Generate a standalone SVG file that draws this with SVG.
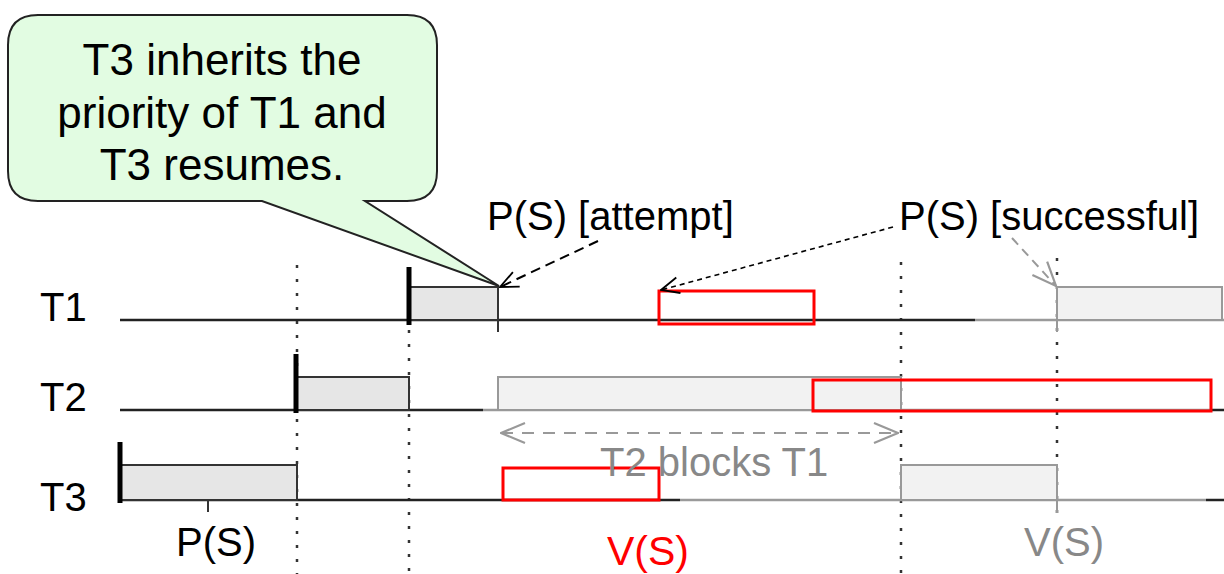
<svg xmlns="http://www.w3.org/2000/svg" width="1224" height="574" viewBox="0 0 1224 574">
<style>
text{font-family:"Liberation Sans",Arial,sans-serif;}
.lbl{font-size:40px;fill:#000;}
.gtxt{font-size:40px;fill:#888;}
.axd{stroke:#222;stroke-width:2.5;fill:none;}
.axg{stroke:#9a9a9a;stroke-width:2.5;fill:none;}
.dot{stroke:#333;stroke-width:2.5;stroke-dasharray:3,11;fill:none;}
.box{fill:#e6e6e6;stroke:#333;stroke-width:2;}
.lbox{fill:#f2f2f2;stroke:#999;stroke-width:2;}
.bar{stroke:#000;stroke-width:5;}
.red{fill:none;stroke:#ff0000;stroke-width:3;}
.tick{stroke:#333;stroke-width:2;}
.gtick{stroke:#999;stroke-width:2;}
</style>
<defs>
<marker id="ab" viewBox="0 0 20 20" refX="19" refY="10" markerWidth="20" markerHeight="20" markerUnits="userSpaceOnUse" orient="auto-start-reverse">
<path d="M1,2 L19,10 L1,18" fill="none" stroke="#000" stroke-width="1.8"/>
</marker>
<marker id="ag" viewBox="0 0 26 26" refX="25" refY="13" markerWidth="26" markerHeight="26" markerUnits="userSpaceOnUse" orient="auto-start-reverse">
<path d="M1,3 L25,13 L1,23" fill="none" stroke="#999" stroke-width="2.2"/>
</marker>
</defs>
<rect width="1224" height="574" fill="#fff"/>

<g id="guides">
<line class="dot" x1="297" y1="265" x2="297" y2="574"/>
<line class="dot" x1="409" y1="330" x2="409" y2="574"/>
<line class="dot" x1="901" y1="262" x2="901" y2="574"/>
<line class="dot" x1="1057" y1="258" x2="1057" y2="515"/>
</g>

<g id="T1">
<text class="lbl" x="40" y="321">T1</text>
<line class="axd" x1="120" y1="320" x2="975" y2="320"/>
<line class="axg" x1="975" y1="320" x2="1224" y2="320"/>
<rect class="box" x="409" y="287" width="89" height="33"/>
<line class="tick" x1="498" y1="287" x2="498" y2="332"/>
<line class="bar" x1="409" y1="267" x2="409" y2="325"/>
<rect class="lbox" x="1057" y="287" width="165" height="33"/>
<line class="gtick" x1="1057" y1="287" x2="1057" y2="332"/>
<rect class="red" x="659" y="291" width="155" height="33"/>
</g>

<g id="T2">
<text class="lbl" x="40" y="411">T2</text>
<line class="axd" x1="120" y1="410" x2="483" y2="410"/>
<line class="axg" x1="483" y1="410" x2="1211" y2="410"/>
<line class="axd" x1="1211" y1="410" x2="1224" y2="410"/>
<rect class="box" x="297" y="377" width="112" height="33"/>
<line class="bar" x1="296" y1="354" x2="296" y2="413"/>
<rect class="lbox" x="498" y="377" width="403" height="33"/>
<rect class="red" x="813" y="380" width="398" height="31"/>
</g>

<g id="T3">
<text class="lbl" x="40" y="511">T3</text>
<line class="axd" x1="120" y1="500" x2="680" y2="500"/>
<line class="axg" x1="680" y1="500" x2="1206" y2="500"/>
<line class="axd" x1="1206" y1="500" x2="1224" y2="500"/>
<rect class="box" x="120" y="465" width="177" height="35"/>
<line class="bar" x1="120" y1="442" x2="120" y2="503"/>
<line class="tick" x1="208" y1="500" x2="208" y2="512"/>
<rect class="lbox" x="901" y="465" width="156" height="35"/>
<line class="gtick" x1="1057" y1="465" x2="1057" y2="513"/>
<rect class="red" x="503" y="468" width="156" height="32"/>
</g>

<g id="labels">
<text class="lbl" x="487" y="230">P(S) [attempt]</text>
<text class="lbl" x="899" y="230">P(S) [successful]</text>
<text class="gtxt" x="600" y="476">T2 blocks T1</text>
<text class="lbl" x="176" y="556">P(S)</text>
<text x="607" y="565" style="font-size:41px;fill:#ff0000;">V(S)</text>
<text class="gtxt" x="1024" y="556">V(S)</text>
</g>

<g id="connectors">
<line x1="598" y1="241" x2="500" y2="287" stroke="#000" stroke-width="2" stroke-dasharray="10,6" marker-end="url(#ab)"/>
<line x1="893" y1="227" x2="661" y2="290" stroke="#000" stroke-width="1.6" stroke-dasharray="5,4" marker-end="url(#ab)"/>
<line x1="1012" y1="238" x2="1056" y2="286" stroke="#999" stroke-width="2" stroke-dasharray="9,6" marker-end="url(#ag)"/>
<line x1="501" y1="433" x2="898" y2="433" stroke="#999" stroke-width="2" stroke-dasharray="12,9" marker-start="url(#ag)" marker-end="url(#ag)"/>
</g>

<g id="callout">
<path d="M38,15 H407 Q437,15 437,45 V171 Q437,201 407,201 H365 L499,286 L262,201 H38 Q8,201 8,171 V45 Q8,15 38,15 Z" fill="#e2fce2" stroke="#222" stroke-width="2"/>
<text x="222" y="75" text-anchor="middle" style="font-size:44px;fill:#000;">T3 inherits the</text>
<text x="222" y="128" text-anchor="middle" style="font-size:44px;fill:#000;">priority of T1 and</text>
<text x="222" y="180" text-anchor="middle" style="font-size:44px;fill:#000;">T3 resumes.</text>
</g>
</svg>
